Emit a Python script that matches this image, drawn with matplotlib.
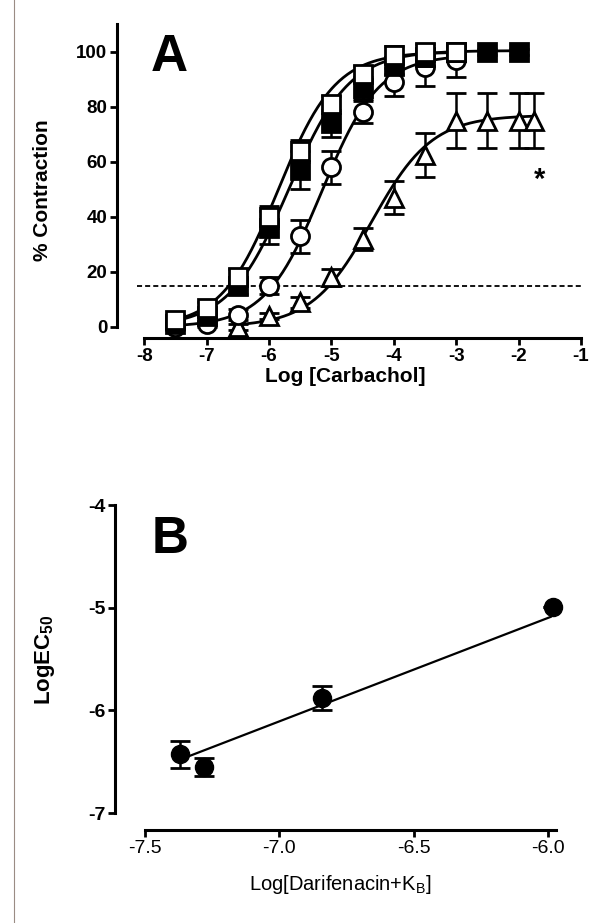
import numpy as np
import matplotlib
matplotlib.use('Agg')
import matplotlib.pyplot as plt

plt.rcParams['font.family'] = ['Liberation Sans', 'DejaVu Sans']
plt.rcParams['mathtext.fontset'] = 'custom'
plt.rcParams['mathtext.rm'] = 'Liberation Sans'
plt.rcParams['mathtext.bf'] = 'Liberation Sans:bold'

W, H = 594, 923

# ---------------- Panel A data ----------------
conc_open_sq = [-7.5, -7, -6.5, -6, -5.5, -5, -4.5, -4, -3.5, -3]
open_sq = [2.5, 7, 18, 40, 64, 81, 92, 99, 100, 100]
open_sq_err = [1, 2, 3, 4, 4, 3, 3, 3, 3, 2]

conc_filled_sq = [-7.5, -7, -6.5, -6, -5.5, -5, -4.5, -4, -3.5, -3, -2.5, -2]
filled_sq = [1, 4, 15, 36, 57, 74, 87, 95, 98, 100, 100, 100]
filled_sq_err = [1, 2, 3, 6, 7, 5, 4, 3, 3, 2, 1, 1]

conc_circ = [-7.5, -7, -6.5, -6, -5.5, -5, -4.5, -4, -3.5, -3]
circ = [0, 1, 4.5, 15, 33, 58, 78, 89, 94.5, 97]
circ_err = [1, 1, 2, 3, 6, 6, 4, 5, 7, 6]

conc_tri = [-6.5, -6, -5.5, -5, -4.5, -4, -3.5, -3, -2.5, -2, -1.75]
tri = [0, 4, 9, 18, 32, 47, 62.5, 75, 75, 75, 75]
tri_err = [1, 1, 2, 3, 4, 6, 8, 10, 10, 10, 10]

# sigmoid fit parameters: bottom, top, logEC50, hill
fit_open_sq = [0, 100, -5.85, 0.95]
fit_filled_sq = [0, 100.5, -5.68, 0.9]
fit_circ = [0, 99, -5.15, 0.95]
fit_tri = [0, 77, -4.35, 0.9]

threshold = 15
x_ticks_a = [-8, -7, -6, -5, -4, -3, -2, -1]
y_ticks_a = [0, 20, 40, 60, 80, 100]

# ---------------- Panel B data ----------------
b_x = [-7.37, -7.28, -6.84, -5.98]
b_y = [-6.43, -6.55, -5.88, -4.99]
b_err = [0.13, 0.09, 0.12, 0.0]
fit_bx = [-7.34, -5.99]
fit_by = [-6.45, -5.09]
x_ticks_b = [-7.5, -7.0, -6.5, -6.0]
y_ticks_b = [-7, -6, -5, -4]


def px_axes(fig, left, top, right, bottom):
    return fig.add_axes([left / W, 1 - bottom / H, (right - left) / W, (bottom - top) / H])


def sigmoid(x, p):
    b, t, ec, h = p
    return b + (t - b) / (1 + 10 ** ((ec - x) * h))


fig = plt.figure(figsize=(W / 100, H / 100), dpi=100)

# scan artefact line at left edge
fig.add_artist(plt.Line2D([14 / W, 14 / W], [0, 1], color='#9a8c84', lw=0.8))

LW = 2.0
MS = 13

# ---------------- Panel A ----------------
axA = px_axes(fig, 117, 15, 581, 338)
axA.set_xlim(-8.435, -1)
axA.set_ylim(-4, 113.45)
for s in ['top', 'right']:
    axA.spines[s].set_visible(False)
axA.spines['left'].set_bounds(0, 110)
axA.spines['bottom'].set_bounds(-8, -1)
for s in ['left', 'bottom']:
    axA.spines[s].set_linewidth(2.2)
axA.set_xticks(x_ticks_a)
axA.set_yticks(y_ticks_a)
axA.set_xticklabels([str(v) for v in x_ticks_a], fontsize=13.5, fontweight='bold')
axA.set_yticklabels([str(v) for v in y_ticks_a], fontsize=13.5, fontweight='bold')
axA.tick_params(direction='out', length=5, width=2.0, pad=2)

axA.plot([-8.11, -1.0], [threshold, threshold], color='black', lw=1.3,
         dashes=[2.8, 1.7], zorder=1)

series = [
    (conc_tri, tri, tri_err, fit_tri, '^', 'white', 2),
    (conc_circ, circ, circ_err, fit_circ, 'o', 'white', 3),
    (conc_filled_sq, filled_sq, filled_sq_err, fit_filled_sq, 's', 'black', 4),
    (conc_open_sq, open_sq, open_sq_err, fit_open_sq, 's', 'white', 5),
]
for xs, ys, es, p, m, fc, z in series:
    xx = np.linspace(min(xs), max(xs), 200)
    axA.plot(xx, sigmoid(xx, p), color='black', lw=LW, zorder=z)
    axA.errorbar(xs, ys, yerr=es, fmt='none', ecolor='black', elinewidth=1.8,
                 capsize=7, capthick=2.0, zorder=z)
    axA.plot(xs, ys, linestyle='none', marker=m, markersize=MS, markerfacecolor=fc,
             markeredgecolor='black', markeredgewidth=2.0, zorder=z + 0.5, clip_on=False)

axA.text(-1.67, 50.5, '*', fontsize=21, fontweight='bold', ha='center', va='baseline')

fig.text(151 / W, 1 - 71 / H, 'A', fontsize=37, fontweight='bold', ha='left', va='baseline')
fig.text(42 / W, 1 - 190 / H, '% Contraction', fontsize=15, fontweight='bold',
         rotation=90, ha='center', va='center')
fig.text(345 / W, 1 - 376 / H, 'Log [Carbachol]', fontsize=15, fontweight='bold',
         ha='center', va='center')

# ---------------- Panel B ----------------
axB = px_axes(fig, 115, 495, 560, 830)
axB.set_xlim(-7.6117, -5.955)
axB.set_ylim(-7.1655, -3.9026)
for s in ['top', 'right']:
    axB.spines[s].set_visible(False)
axB.spines['left'].set_bounds(-7, -4)
axB.spines['bottom'].set_bounds(-7.5, -5.97)
for s in ['left', 'bottom']:
    axB.spines[s].set_linewidth(2.2)
axB.set_xticks(x_ticks_b)
axB.set_yticks(y_ticks_b)
axB.set_xticklabels(['%.1f' % v for v in x_ticks_b], fontsize=14)
axB.set_yticklabels([str(v) for v in y_ticks_b], fontsize=14, fontweight='bold')
axB.tick_params(direction='out', length=5, width=2.0, pad=2)

axB.plot(fit_bx, fit_by, color='black', lw=1.6, zorder=2)
axB.errorbar(b_x, b_y, yerr=b_err, fmt='none', ecolor='black', elinewidth=1.8,
             capsize=7, capthick=2.0, zorder=3)
axB.plot(b_x, b_y, linestyle='none', marker='o', markersize=13, markerfacecolor='black',
         markeredgecolor='black', zorder=4, clip_on=False)

fig.text(152 / W, 1 - 553 / H, 'B', fontsize=37, fontweight='bold', ha='left', va='baseline')
fig.text(45 / W, 1 - 660 / H, r'LogEC$_{\mathbf{50}}$', fontsize=16, fontweight='bold',
         rotation=90, ha='center', va='center')
fig.text(340 / W, 1 - 885 / H, r'Log[Darifenacin+K$_{\mathrm{B}}$]', fontsize=14.5,
         ha='center', va='center')

fig.savefig('out.png', dpi=100, facecolor='white')
